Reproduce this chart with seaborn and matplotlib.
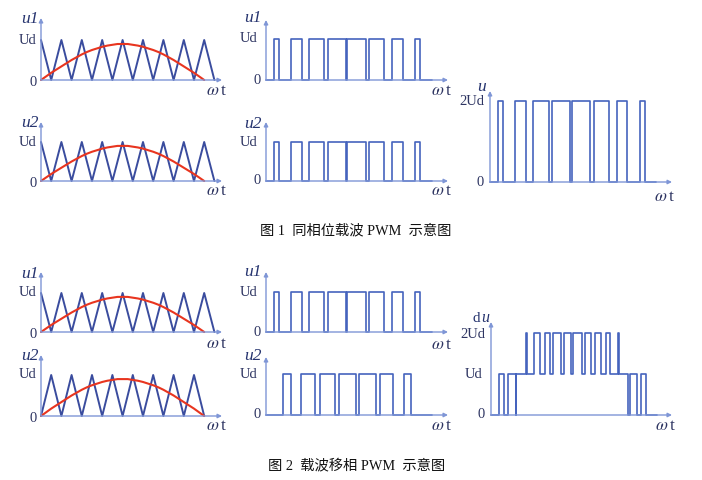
import matplotlib
matplotlib.use("Agg")
import matplotlib.pyplot as plt
import seaborn as sns

# ---- data (x in carrier periods, y in units of Ud) ----
# carrier in phase: starts at a peak
carrier_a_x = [0, 0.5, 1, 1.5, 2, 2.5, 3, 3.5, 4, 4.5, 5, 5.5, 6, 6.5, 7, 7.5, 8, 8.5]
carrier_a_y = [1, 0, 1, 0, 1, 0, 1, 0, 1, 0, 1, 0, 1, 0, 1, 0, 1, 0]
# carrier shifted by half a period: starts at a valley
carrier_b_x = [0, 0.5, 1, 1.5, 2, 2.5, 3, 3.5, 4, 4.5, 5, 5.5, 6, 6.5, 7, 7.5, 8]
carrier_b_y = [0, 1, 0, 1, 0, 1, 0, 1, 0, 1, 0, 1, 0, 1, 0, 1, 0]
# reference wave (red)
ref_x = [0, 0.25, 0.5, 0.75, 1, 1.25, 1.5, 1.75, 2, 2.25, 2.5, 2.75, 3, 3.25, 3.5, 3.75, 4,
         4.25, 4.5, 4.75, 5, 5.25, 5.5, 5.75, 6, 6.25, 6.5, 6.75, 7, 7.25, 7.5, 7.75, 8]
ref_y = [0, 0.09, 0.18, 0.26, 0.34, 0.42, 0.50, 0.57, 0.64, 0.70, 0.75, 0.79, 0.83, 0.86, 0.88, 0.90, 0.90,
         0.90, 0.88, 0.86, 0.83, 0.79, 0.75, 0.70, 0.64, 0.57, 0.50, 0.42, 0.34, 0.26, 0.18, 0.09, 0]
# PWM pulse edges
pwm_a_rise = [0.38, 1.25, 2.13, 3.07, 4.03, 5.10, 6.24, 7.39]
pwm_a_fall = [0.62, 1.76, 2.89, 3.95, 4.94, 5.86, 6.76, 7.62]
pwm_b_rise = [0.84, 1.71, 2.66, 3.62, 4.62, 5.65, 6.83]
pwm_b_fall = [1.23, 2.43, 3.44, 4.47, 5.44, 6.30, 7.18]
pwm_end = 8.2

W, H = 702, 480
AXIS_C = "#7f96d6"
CARRIER_C = "#3a4c9e"
REF_C = "#e8351f"
PWM_C = "#4563bd"
TXT_C = "#2e3562"
SERIF = ["Liberation Serif", "DejaVu Serif"]

sns.set_theme(style="white")
plt.rcParams["mathtext.fontset"] = "stix"


def level(edges, x):
    return sum(1 for r, f in edges if r <= x < f)


def step_wave(*signals):
    edges = [list(zip(r, f)) for r, f in signals]
    pts = {0, pwm_end}
    for r, f in signals:
        pts.update(r)
        pts.update(f)
    xs = sorted(pts)
    ys = [sum(level(e, x) for e in edges) for x in xs]
    return xs, ys


def panel(fig, x0, yb, ux, hy, xend, ytop):
    ax = fig.add_axes([x0 / W, 1 - yb / H, (xend - x0) / W, (yb - ytop) / H])
    xmax, ymax = (xend - x0) / ux, (yb - ytop) / hy
    ax.set_xlim(0, xmax)
    ax.set_ylim(0, ymax)
    ax.axis("off")
    arrow = dict(arrowstyle="-|>", color=AXIS_C, lw=1.0, mutation_scale=6,
                 shrinkA=0, shrinkB=0)
    ax.annotate("", xy=(xmax, 0), xytext=(0, 0), arrowprops=arrow, annotation_clip=False)
    ax.annotate("", xy=(0, ymax), xytext=(0, 0), arrowprops=arrow, annotation_clip=False)
    return ax


def labels(ax, name, levels, wt, name_pos):
    if name:
        ax.text(name_pos[0], name_pos[1], name, ha="right", va="center", fontsize=12.5,
                style="italic", family=SERIF, color="#26346f", clip_on=False)
    for txt, y, dx in levels:
        ax.text(dx, y, txt, ha="right", va="center", fontsize=10.5,
                family=SERIF, color=TXT_C, clip_on=False)
    ax.text(wt[0], wt[1], r"$\omega\,$t", ha="center", va="center", fontsize=12.5,
            family=SERIF, color=TXT_C, clip_on=False)


def carrier_panel(fig, spec, cx, cy, name, name_pos, wt):
    ax = panel(fig, *spec)
    sns.lineplot(x=cx, y=cy, ax=ax, color=CARRIER_C, lw=1.4, sort=False,
                 estimator=None, clip_on=False)
    sns.lineplot(x=ref_x, y=ref_y, ax=ax, color=REF_C, lw=1.5, sort=False,
                 estimator=None, clip_on=False)
    labels(ax, name, [("Ud", 1, -0.2), ("0", -0.07, -0.2)], wt, name_pos)


def pwm_panel(fig, spec, signals, name, name_pos, lev, wt):
    ax = panel(fig, *spec)
    xs, ys = step_wave(*signals)
    sns.lineplot(x=xs, y=ys, ax=ax, color=PWM_C, lw=1.2, sort=False,
                 estimator=None, drawstyle="steps-post", clip_on=False)
    labels(ax, name, lev, wt, name_pos)
    return ax


fig = plt.figure(figsize=(W / 100, H / 100), dpi=100)

A = (pwm_a_rise, pwm_a_fall)
B = (pwm_b_rise, pwm_b_fall)

# ---- figure 1: carriers in phase ----
carrier_panel(fig, (41, 80, 20.4, 40, 222, 18), carrier_a_x, carrier_a_y,
              "u1", (-0.12, 1.52), (8.6, -0.27))
carrier_panel(fig, (41, 181, 20.4, 39, 222, 122), carrier_a_x, carrier_a_y,
              "u2", (-0.12, 1.48), (8.6, -0.25))
pwm_panel(fig, (266, 80, 20.2, 41, 448, 20), [A], "u1", (-0.2, 1.5),
          [("Ud", 1, -0.4), ("0", 0, -0.25)], (8.7, -0.27))
pwm_panel(fig, (266, 181, 20.2, 39, 448, 122), [A], "u2", (-0.2, 1.45),
          [("Ud", 1, -0.4), ("0", 0, -0.25)], (8.7, -0.25))
pwm_panel(fig, (490, 182, 20.3, 40.5, 672, 91), [A, A], "u", (-0.2, 2.35),
          [("2Ud", 1.98, -0.3), ("0", 0, -0.3)], (8.6, -0.36))

# ---- figure 2: carriers phase shifted ----
carrier_panel(fig, (41, 332, 20.4, 39, 222, 272), carrier_a_x, carrier_a_y,
              "u1", (-0.12, 1.5), (8.6, -0.3))
carrier_panel(fig, (41, 416, 20.4, 41, 222, 355), carrier_b_x, carrier_b_y,
              "u2", (-0.12, 1.46), (8.6, -0.25))
pwm_panel(fig, (266, 332, 20.2, 40, 448, 272), [A], "u1", (-0.2, 1.5),
          [("Ud", 1, -0.4), ("0", 0, -0.25)], (8.7, -0.33))
pwm_panel(fig, (266, 415, 20.2, 41, 448, 357), [B], "u2", (-0.2, 1.45),
          [("Ud", 1, -0.4), ("0", 0, -0.25)], (8.7, -0.27))
ax = pwm_panel(fig, (491, 415, 20.3, 41, 672, 322), [A, B], "", (0, 0),
               [("2Ud", 1.96, -0.3), ("Ud", 1, -0.4), ("0", 0, -0.3)], (8.57, -0.27))
ax.text(-0.55, 2.36, "d", ha="right", va="center", fontsize=11, family=SERIF,
        color="#26346f", clip_on=False)
ax.text(-0.08, 2.36, "u", ha="right", va="center", fontsize=11.5, style="italic",
        family=SERIF, color="#26346f", clip_on=False)

cap = ["Liberation Serif", "Noto Sans CJK SC"]
fig.text(356 / W, 1 - 231 / H, "图 1  同相位载波 PWM  示意图", ha="center", va="center",
         fontsize=10.3, family=cap, color="#111111")
fig.text(357 / W, 1 - 465 / H, "图 2  载波移相 PWM  示意图", ha="center", va="center",
         fontsize=10.3, family=cap, color="#111111")

fig.savefig("out.png", dpi=100, facecolor="white")
